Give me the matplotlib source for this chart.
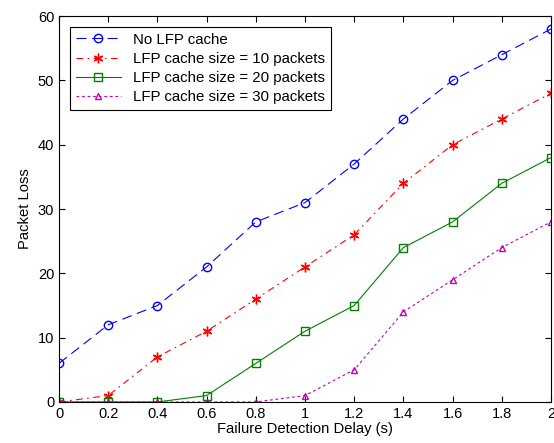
import matplotlib
matplotlib.use('Agg')
import matplotlib.pyplot as plt
import numpy as np

plt.rcParams['font.family'] = ['Liberation Sans', 'DejaVu Sans']

delay = [0, 0.2, 0.4, 0.6, 0.8, 1.0, 1.2, 1.4, 1.6, 1.8, 2.0]
no_cache = [6, 12, 15, 21, 28, 31, 37, 44, 50, 54, 58]
cache10 = [0, 1, 7, 11, 16, 21, 26, 34, 40, 44, 48]
cache20 = [0, 0, 0, 1, 6, 11, 15, 24, 28, 34, 38]
cache30 = [0, 0, 0, 0, 0, 1, 5, 14, 19, 24, 28]

fig = plt.figure(figsize=(5.54, 4.43), dpi=100)
ax = fig.add_axes([0.1065, 0.0926, 0.888, 0.871])

ax.plot(delay, no_cache, color='blue', marker='o', mfc='none', ms=6, lw=0.8,
        dashes=(9, 5), label='No LFP cache')
ax.plot(delay, cache10, color='red', marker=(6, 2, 0), ms=7, lw=0.8,
        mew=1.0, dashes=(6, 4, 1.5, 4), label='LFP cache size = 10 packets')
ax.plot(delay, cache20, color='green', marker='s', mfc='none', ms=6, lw=0.8,
        label='LFP cache size = 20 packets')
ax.plot(delay, cache30, color='m', marker='^', mfc='none', ms=5, lw=0.8,
        dashes=(2.5, 2.5), label='LFP cache size = 30 packets')

ax.set_xlim(0, 2)
ax.set_ylim(0, 60)
ax.set_xticks(np.arange(0, 2.01, 0.2))
ax.set_xticklabels(['0', '0.2', '0.4', '0.6', '0.8', '1', '1.2', '1.4', '1.6', '1.8', '2'])
ax.set_yticks(range(0, 61, 10))
ax.tick_params(direction='in', top=True, right=True, labelsize=10.5, length=4)
ax.set_xlabel('Failure Detection Delay (s)', fontsize=10.6, labelpad=1)
ax.set_ylabel('Packet Loss', fontsize=10.6)

leg = ax.legend(loc='upper left', fontsize=10.8, fancybox=False, edgecolor='black',
                framealpha=1, handlelength=3, borderaxespad=0.7, labelspacing=0.35)
leg.get_frame().set_linewidth(0.8)

fig.savefig('out.png', dpi=100)
